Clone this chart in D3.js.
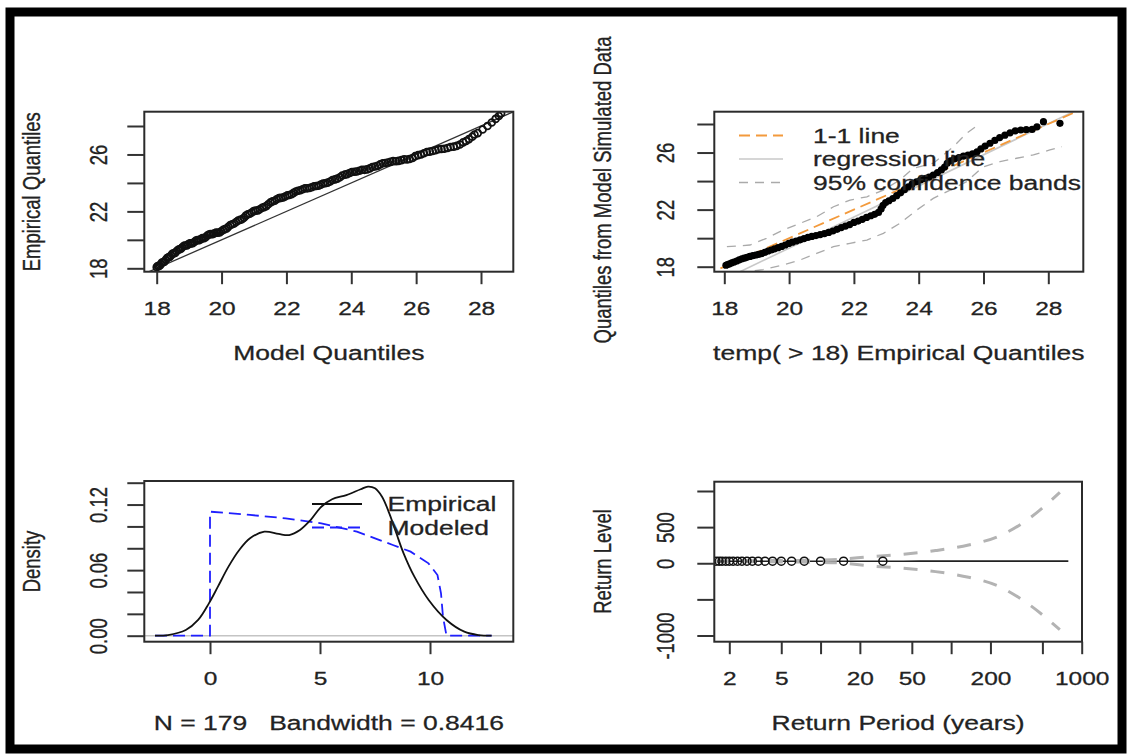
<!DOCTYPE html>
<html>
<head>
<meta charset="utf-8">
<script src="https://cdn.jsdelivr.net/npm/d3@7"></script>
<style>
body{margin:0;background:#fff;}
svg{display:block;}
text{font-family:"Liberation Sans",Arial,sans-serif;fill:#222;stroke:#222;stroke-width:0.35px;}
</style>
</head>
<body>
<div id="container"></div>
<script>
// ---- top left: model quantiles vs empirical quantiles (179 points read as a band)
const qqModel = [18.00,18.06,18.13,18.20,18.28,18.36,18.44,18.52,18.61,18.70,18.79,18.88,18.97,19.06,19.16,19.26,19.36,19.46,19.56,19.66,
  19.77,19.88,19.99,20.10,20.21,20.33,20.45,20.57,20.69,20.81,20.93,21.05,21.18,21.31,21.44,21.57,21.70,21.83,21.96,22.09,
  22.22,22.36,22.50,22.64,22.78,22.92,23.06,23.20,23.35,23.50,23.65,23.80,23.95,24.10,24.25,24.41,24.57,24.73,24.89,25.05,
  25.21,25.38,25.55,25.72,25.89,26.06,26.24,26.42,26.60,26.78,26.97,27.16,27.35,27.54,27.73,27.90,28.05,28.20,28.33,28.45,28.55,28.62,
  18.03,18.10,18.16,18.24,18.32,18.40,18.48,18.57,18.66,18.75,18.84,18.93,19.02,19.11,19.21,19.31,19.41,19.51,19.61,19.72,
  19.83,19.94,20.05,20.16,20.27,20.39,20.51,20.63,20.75,20.87,20.99,21.12,21.25,21.38,21.51,21.64,21.77,21.90,22.03,22.16,
  22.29,22.43,22.57,22.71,22.85,22.99,23.13,23.27,23.42,23.57,23.72,23.87,24.02,24.17,24.33,24.49,24.65,24.81,24.97,25.13,
  25.29,25.46,25.63,25.80,25.97,26.15,26.33,26.51,26.69,26.87,27.06,27.25,27.45,27.63,27.80];
const qqEmp = [18.08,18.15,18.30,18.42,18.60,18.78,18.90,19.05,19.20,19.33,19.48,19.60,19.68,19.75,19.85,19.98,20.05,20.12,20.30,20.40,
  20.45,20.50,20.60,20.75,20.92,21.10,21.25,21.40,21.55,21.80,21.92,22.05,22.15,22.30,22.50,22.70,22.85,22.95,23.05,23.15,
  23.30,23.45,23.55,23.62,23.70,23.78,23.88,23.98,24.10,24.25,24.40,24.58,24.70,24.78,24.85,24.92,25.02,25.15,25.30,25.40,
  25.48,25.52,25.60,25.65,25.75,25.95,26.08,26.20,26.30,26.38,26.45,26.55,26.70,26.95,27.25,27.50,27.75,28.00,28.25,28.50,28.70,28.90,
  18.16,18.20,18.40,18.47,18.72,18.80,19.02,19.08,19.30,19.38,19.58,19.60,19.75,19.77,19.95,19.98,20.12,20.18,20.38,20.40,
  20.52,20.52,20.70,20.80,21.04,21.15,21.36,21.45,21.70,21.83,22.02,22.07,22.26,22.37,22.63,22.75,22.93,22.98,23.13,23.20,
  23.40,23.48,23.62,23.64,23.77,23.80,23.96,24.02,24.20,24.30,24.52,24.62,24.77,24.80,24.92,24.95,25.12,25.20,25.38,25.43,
  25.53,25.55,25.66,25.68,25.88,26.00,26.17,26.24,26.37,26.40,26.52,26.60,26.85,27.08,27.40];

// ---- top right: empirical vs model simulated quantiles
const simEmp = [18.05,18.10,18.16,18.23,18.30,18.38,18.46,18.54,18.62,18.70,18.79,18.88,18.97,19.06,19.15,19.25,19.35,19.45,19.55,19.66,
  19.77,19.88,19.99,20.10,20.22,20.34,20.46,20.58,20.70,20.83,20.96,21.09,21.22,21.35,21.48,21.61,21.74,21.87,22.00,22.13,
  22.26,22.39,22.52,22.64,22.76,22.84,22.90,22.98,23.08,23.20,23.32,23.44,23.56,23.68,23.80,23.93,24.06,24.19,24.32,24.45,
  24.58,24.70,24.80,24.88,24.98,25.10,25.24,25.38,25.52,25.66,25.80,25.92,26.05,26.20,26.35,26.50,26.66,26.82,26.98,27.15,
  27.32,27.50,27.65,27.85,28.36];
const simQ = [18.10,18.15,18.20,18.27,18.33,18.40,18.48,18.55,18.60,18.66,18.72,18.77,18.82,18.87,18.92,19.00,19.10,19.17,19.25,19.33,
  19.42,19.52,19.63,19.72,19.80,19.88,19.97,20.05,20.12,20.18,20.25,20.32,20.40,20.50,20.62,20.74,20.85,20.95,21.10,21.20,
  21.32,21.45,21.57,21.67,21.80,22.05,22.30,22.50,22.62,22.78,22.98,23.18,23.40,23.60,23.80,23.95,24.08,24.18,24.28,24.42,
  24.60,24.78,24.98,25.25,25.42,25.55,25.65,25.75,25.82,25.90,26.05,26.25,26.45,26.65,26.85,27.05,27.22,27.38,27.52,27.58,
  27.60,27.62,27.80,28.16,28.05];
const ciUpX = [18.08,18.79,19.30,19.82,20.34,20.85,21.37,21.88,22.40,22.91,23.42,23.83,24.45,25.07,25.48,25.90];
const ciUpY = [19.40,19.52,19.99,20.57,21.04,21.50,22.20,22.67,22.90,23.37,24.08,24.90,25.25,26.41,27.35,28.05];
const ciLoX = [18.45,19.20,19.82,20.34,20.85,21.37,21.88,22.40,22.91,23.42,23.94,24.45,24.97,25.48,25.99,26.51,27.02,27.54,28.05,28.42];
const ciLoY = [17.56,17.80,18.12,18.47,18.93,19.40,19.64,19.87,20.34,21.04,21.97,22.79,23.37,23.96,25.00,25.36,25.60,25.83,26.18,26.41];
const regCoef = [-2.5, 1.09];
const simLegend = ["1-1 line", "regression line", "95% confidence bands"];

// ---- bottom left: density
const empX = [-2.5,-1.91,-1.1,-0.54,-0.05,0.36,0.84,1.33,1.82,2.47,3.12,3.6,4.09,4.57,5.06,5.55,6.2,6.85,7.18,7.5,
  7.82,8.15,8.47,8.8,9.29,9.94,10.75,11.56,12.2,12.8];
const empY = [0,0.0006,0.0052,0.0144,0.0296,0.0449,0.0632,0.0784,0.0891,0.0952,0.0931,0.0921,0.0967,0.1058,0.118,0.1248,0.1287,0.134,0.1364,0.1349,
  0.1272,0.112,0.0937,0.0754,0.054,0.0327,0.0144,0.0037,0.0006,0];
const modX = [-2.5,0,0,1.82,3.44,5.06,6.68,7.5,8.31,9.12,9.93,10.34,10.5,10.59,10.75,12.8];
const modY = [0,0,0.1135,0.1105,0.1074,0.1028,0.0952,0.0891,0.083,0.0769,0.0662,0.0555,0.0388,0.0174,0,0];
const denLegend = ["Empirical", "Modeled"];

// ---- bottom right: return levels
const rpPts = [1.58,1.67,1.76,1.88,2.0,2.14,2.31,2.5,2.73,3.0,3.33,3.75,4.29,5.0,6.0,7.5,10.0,15.0,30.0];
const rlPts = [27.6,27.7,27.8,27.8,27.9,28.0,28.0,28.1,28.1,28.2,28.2,28.3,28.3,28.4,28.4,28.5,28.5,28.6,28.6];
const rpLine = [1.55,2,3,5,10,13.5,24,43,76,136,228,383,680,790];
const rlLine = [27.0,27.4,27.8,28.1,28.4,28.5,28.6,28.7,28.8,28.8,28.9,28.9,29.0,29.0];
const rpCI = [1.55,2,3,5,10,13.5,24,43,76,136,228,383,680];
const ciLow = [22,22,21,18,12,5,-37,-69,-116,-194,-314,-554,-920];
const ciHigh = [32,33,35,38,45,52,91,124,175,253,369,600,980];

// ticks
const qTicks = [18,20,22,24,26,28], qLabY = [18,22,26];
const denTicksX = [0,5,10];
const denTicksY = [0,0.02,0.04,0.06,0.08,0.10,0.12,0.14], denLabY = [0,0.06,0.12];
const rpTicks = [2,5,10,20,50,100,200,500,1000], rpLab = [2,5,20,50,200,1000];
const rlTicks = [-1000,-500,0,500,1000], rlLab = [-1000,0,500];

const W = 1132, H = 754;
const SQ = 0.77;             // the picture is squashed vertically
const TICK_H = 24.5, TICK_V = 24, TITLE_H = 26.5, TITLE_V = 24;

const svg = d3.select("#container").append("svg").attr("width", W).attr("height", H);
svg.append("rect").attr("width", W).attr("height", H).attr("fill", "#fff");
svg.append("rect").attr("x", 10).attr("y", 12).attr("width", 1112).attr("height", 737)
  .attr("fill", "none").attr("stroke", "#000").attr("stroke-width", 9);

const boxTL = {x0:144.3, x1:513.3, y0:111.7, y1:271.7};
const boxTR = {x0:714.3, x1:1083.3, y0:111.7, y1:271.7};
const boxBL = {x0:144.3, x1:513.3, y0:481, y1:641.7};
const boxBR = {x0:714.3, x1:1082, y0:481.7, y1:641.7};

function hText(x, y, s, size, anchor){
  return svg.append("text").attr("transform", `translate(${x},${y}) scale(1,${SQ})`)
    .attr("text-anchor", anchor || "middle").style("font-size", size + "px")
    .style("white-space", "pre").text(s);
}
function vText(x, y, s, size){
  return svg.append("text").attr("transform", `translate(${x},${y}) rotate(-90) scale(${SQ},1)`)
    .attr("text-anchor", "middle").style("font-size", size + "px").text(s);
}
function clip(id, b){
  svg.append("clipPath").attr("id", id).append("rect")
    .attr("x", b.x0).attr("y", b.y0).attr("width", b.x1 - b.x0).attr("height", b.y1 - b.y0);
  return svg.append("g").attr("clip-path", `url(#${id})`);
}
function frame(b){
  svg.append("rect").attr("x", b.x0).attr("y", b.y0).attr("width", b.x1 - b.x0).attr("height", b.y1 - b.y0)
    .attr("fill", "none").attr("stroke", "#2b2b2b").attr("stroke-width", 2);
}
function styleAxis(g){
  g.attr("font-family", null).attr("font-size", null);
  g.select(".domain").remove();
  g.selectAll(".tick line").attr("stroke", "#333").attr("stroke-width", 2);
  g.selectAll(".tick text").attr("fill", "#222");
}
function xAxis(b, sc, ticks, shown, fmt){
  const g = svg.append("g").attr("transform", `translate(0,${b.y1})`)
    .call(d3.axisBottom(sc).tickValues(ticks).tickSize(12.5).tickSizeOuter(0)
      .tickFormat(d => shown.includes(d) ? fmt(d) : ""));
  styleAxis(g);
  g.selectAll(".tick text").attr("y", null).attr("dy", null)
    .attr("transform", `translate(0,43.3) scale(1,${SQ})`).style("font-size", TICK_H + "px");
}
function yAxis(b, sc, ticks, shown, fmt, off){
  const g = svg.append("g").attr("transform", `translate(${b.x0},0)`)
    .call(d3.axisLeft(sc).tickValues(ticks).tickSize(17).tickSizeOuter(0)
      .tickFormat(d => shown.includes(d) ? fmt(d) : ""));
  styleAxis(g);
  g.selectAll(".tick text").attr("x", null).attr("dy", null).attr("text-anchor", "middle")
    .attr("transform", `translate(${-off},0) rotate(-90) scale(${SQ},1)`).style("font-size", TICK_V + "px");
}
const zip = (a, b) => a.map((v, i) => [v, b[i]]);

// ================= top left
{
  const x = d3.scaleLinear().domain([18, 28]).range([156.7, 481]);
  const y = d3.scaleLinear().domain([18, 28]).range([268.3, 126]);
  const g = clip("cTL", boxTL);
  const dom = x.invert(boxTL.x0), dom2 = x.invert(boxTL.x1);
  g.append("line").attr("x1", x(dom)).attr("y1", y(dom)).attr("x2", x(dom2)).attr("y2", y(dom2))
    .attr("stroke", "#333").attr("stroke-width", 1.3);
  g.selectAll("circle").data(zip(qqModel, qqEmp)).join("circle")
    .attr("cx", d => x(d[0])).attr("cy", d => y(d[1])).attr("r", 3.4)
    .attr("fill", "none").attr("stroke", "#111").attr("stroke-width", 1.8);
  frame(boxTL);
  xAxis(boxTL, x, qTicks, qTicks, d3.format("d"));
  yAxis(boxTL, y, qTicks, qLabY, d3.format("d"), 37.5);
  hText((boxTL.x0 + boxTL.x1) / 2, boxTL.y1 + 88.3, "Model Quantiles", TITLE_H);
  vText(40, 191.7, "Empirical Quantiles", TITLE_V);
}

// ================= top right
{
  const x = d3.scaleLinear().domain([18, 28]).range([724.3, 1048.3]);
  const y = d3.scaleLinear().domain([18, 28]).range([266.7, 124]);
  const g = clip("cTR", boxTR);
  const lo = 17.4, hi = 29.4;
  const ln = d3.line().x(d => x(d[0])).y(d => y(d[1]));
  g.append("path").attr("d", ln(zip(ciUpX, ciUpY))).attr("fill", "none")
    .attr("stroke", "#aaa").attr("stroke-width", 1.3).attr("stroke-dasharray", "9,7");
  g.append("path").attr("d", ln(zip(ciLoX, ciLoY))).attr("fill", "none")
    .attr("stroke", "#aaa").attr("stroke-width", 1.3).attr("stroke-dasharray", "9,7");
  g.append("line").attr("x1", x(lo)).attr("y1", y(regCoef[0] + regCoef[1] * lo))
    .attr("x2", x(hi)).attr("y2", y(regCoef[0] + regCoef[1] * hi))
    .attr("stroke", "#c8c8c8").attr("stroke-width", 1.6);
  g.append("line").attr("x1", x(lo)).attr("y1", y(lo)).attr("x2", x(hi)).attr("y2", y(hi))
    .attr("stroke", "#f39a3c").attr("stroke-width", 1.8).attr("stroke-dasharray", "11,6");
  g.selectAll("circle").data(zip(simEmp, simQ)).join("circle")
    .attr("cx", d => x(d[0])).attr("cy", d => y(d[1])).attr("r", 3.6)
    .attr("fill", "#000");
  frame(boxTR);
  xAxis(boxTR, x, qTicks, qTicks, d3.format("d"));
  yAxis(boxTR, y, qTicks, qLabY, d3.format("d"), 40.5);
  hText((boxTR.x0 + boxTR.x1) / 2, boxTR.y1 + 88.3, "temp( > 18) Empirical Quantiles", TITLE_H);
  vText(611, 190, "Quantiles from Model Simulated Data", TITLE_V);

  // legend
  const legStyle = [
    {stroke: "#f39a3c", dash: "11,6", w: 1.8},
    {stroke: "#c8c8c8", dash: null, w: 1.6},
    {stroke: "#aaa", dash: "9,7", w: 1.3}
  ];
  simLegend.forEach((s, i) => {
    const yy = 135.5 + i * 23.5;
    svg.append("line").attr("x1", 739).attr("x2", 783).attr("y1", yy).attr("y2", yy)
      .attr("stroke", legStyle[i].stroke).attr("stroke-width", legStyle[i].w)
      .attr("stroke-dasharray", legStyle[i].dash);
    hText(813, yy + 7.3, s, TITLE_H, "start");
  });
}

// ================= bottom left
{
  const x = d3.scaleLinear().domain([0, 10]).range([210, 430]);
  const y = d3.scaleLinear().domain([0, 0.14]).range([635.7, 482.7]);
  const g = clip("cBL", boxBL);
  g.append("line").attr("x1", boxBL.x0).attr("x2", boxBL.x1).attr("y1", y(0)).attr("y2", y(0))
    .attr("stroke", "#c4c4c4").attr("stroke-width", 1.6);
  g.append("path").attr("d", d3.line().x(d => x(d[0])).y(d => y(d[1]))(zip(modX, modY)))
    .attr("fill", "none").attr("stroke", "#1f1fff").attr("stroke-width", 1.8).attr("stroke-dasharray", "12,6");
  g.append("path").attr("d", d3.line().curve(d3.curveCatmullRom).x(d => x(d[0])).y(d => y(d[1]))(zip(empX, empY)))
    .attr("fill", "none").attr("stroke", "#111").attr("stroke-width", 1.8);
  frame(boxBL);
  xAxis(boxBL, x, denTicksX, denTicksX, d3.format("d"));
  yAxis(boxBL, y, denTicksY, denLabY, d3.format(".2f"), 37.5);
  hText((boxBL.x0 + boxBL.x1) / 2, boxBL.y1 + 88.3, "N = 179   Bandwidth = 0.8416", TITLE_H);
  vText(40, 561.5, "Density", TITLE_V);

  const legStyle = [{stroke: "#111", dash: null}, {stroke: "#1f1fff", dash: "12,6"}];
  denLegend.forEach((s, i) => {
    const yy = 504 + i * 23.5;
    svg.append("line").attr("x1", 312).attr("x2", 362).attr("y1", yy).attr("y2", yy)
      .attr("stroke", legStyle[i].stroke).attr("stroke-width", 1.8).attr("stroke-dasharray", legStyle[i].dash);
    hText(387.5, yy + 7.3, s, TITLE_H, "start");
  });
}

// ================= bottom right
{
  const x = d3.scaleLog().domain([2, 1000]).range([729.3, 1081.7]);
  const y = d3.scaleLinear().domain([-1000, 1000]).range([635.5, 491]);
  const g = clip("cBR", boxBR);
  const ln = d3.line().curve(d3.curveMonotoneX).x(d => x(d[0])).y(d => y(d[1]));
  g.append("path").attr("d", ln(zip(rpLine, rlLine))).attr("fill", "none")
    .attr("stroke", "#222").attr("stroke-width", 1.6);
  [ciLow, ciHigh].forEach(arr => {
    g.append("path").attr("d", ln(zip(rpCI, arr))).attr("fill", "none")
      .attr("stroke", "#b3b3b3").attr("stroke-width", 3).attr("stroke-dasharray", "14,13");
  });
  g.selectAll("circle").data(zip(rpPts, rlPts)).join("circle")
    .attr("cx", d => x(d[0])).attr("cy", d => y(d[1])).attr("r", 4)
    .attr("fill", "none").attr("stroke", "#111").attr("stroke-width", 1.5);
  frame(boxBR);
  xAxis(boxBR, x, rpTicks, rpLab, d3.format("d"));
  yAxis(boxBR, y, rlTicks, rlLab, d => String(d), 40.5);
  hText((boxBR.x0 + boxBR.x1) / 2, boxBR.y1 + 88.3, "Return Period (years)", TITLE_H);
  vText(611, 561.5, "Return Level", TITLE_V);
}
</script>
</body>
</html>
